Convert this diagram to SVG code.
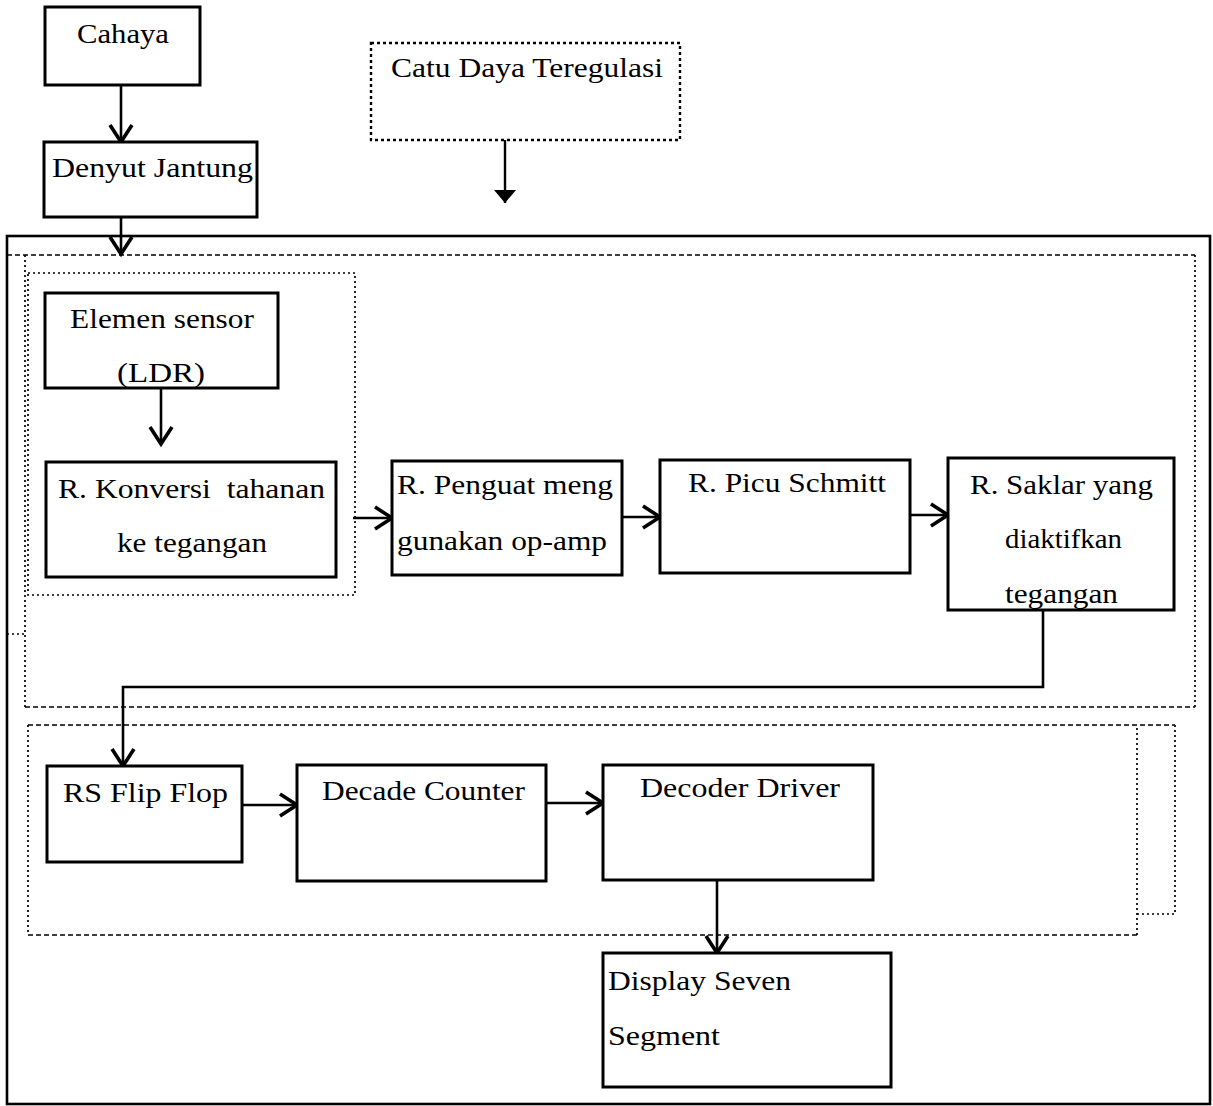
<svg xmlns="http://www.w3.org/2000/svg" width="1213" height="1106" viewBox="0 0 1213 1106">
  <defs>
    <style>
      .box { fill: #fff; stroke: #000; stroke-width: 3; }
      .dash { fill: none; stroke: #000; stroke-width: 1.7; stroke-dasharray: 5 3; }
      .dot { fill: none; stroke: #000; stroke-width: 1.7; stroke-dasharray: 2 3; }
      .dotbox { fill: none; stroke: #000; stroke-width: 2.4; stroke-dasharray: 3 3; }
      .wire { fill: none; stroke: #000; stroke-width: 2.4; }
      .arrow { fill: none; stroke: #000; stroke-width: 2.6; marker-end: url(#vee); }
      .label { font-family: "Liberation Serif", "Times New Roman", serif; font-size: 28px; fill: #000; white-space: pre; }
    </style>
    <marker id="vee" markerUnits="userSpaceOnUse" viewBox="-20 -14 24 28" refX="0" refY="0" markerWidth="24" markerHeight="28" orient="auto">
      <path d="M-17,-11 L0,0 L-17,11" fill="none" stroke="#000" stroke-width="3.6"/>
    </marker>
    <marker id="tri" markerUnits="userSpaceOnUse" viewBox="-14 -12 16 24" refX="0" refY="0" markerWidth="16" markerHeight="24" orient="auto">
      <path d="M-13,-11 L0,0 L-13,11 Z" fill="#000"/>
    </marker>
  </defs>

  <!-- enclosing system frame and sub-system groupings -->
  <g id="frames">
    <rect x="7" y="236" width="1203" height="868" fill="none" stroke="#000" stroke-width="2.6"/>
    <!-- upper group: sensing and signal conditioning -->
    <path class="dash" d="M7,255 H1195"/>
    <path class="dot" d="M1195,255 V707"/>
    <path class="dash" d="M25,707 H1195"/>
    <path class="dot" d="M25,255 V707"/>
    <path class="dot" d="M7,634 H25"/>
    <!-- sensor sub-group -->
    <rect class="dot" x="28" y="273" width="327" height="322"/>
    <!-- lower group: counting and display driving -->
    <path class="dash" d="M28,725 H1175"/>
    <path class="dot" d="M1175,725 V914 H1137"/>
    <path class="dot" d="M1137,728 V935"/>
    <path class="dash" d="M28,935 H1137"/>
    <path class="dot" d="M28,725 V935"/>
  </g>

  <g id="connectors">
    <path class="arrow" d="M121,85 V142"/>
    <path class="arrow" d="M121,217 V254"/>
    <path class="wire" d="M505,140 V203" marker-end="url(#tri)"/>
    <path class="arrow" d="M161,388 V444"/>
    <path class="arrow" d="M353,518 H392"/>
    <path class="arrow" d="M622,517 H660"/>
    <path class="arrow" d="M910,515 H948"/>
    <path class="arrow" d="M1043,611 V687 H123 V766"/>
    <path class="arrow" d="M242,805 H297"/>
    <path class="arrow" d="M546,803 H603"/>
    <path class="arrow" d="M717,880 V953"/>
  </g>

  <g id="cahaya">
    <rect class="box" x="45" y="7" width="155" height="78"/>
    <text class="label" x="77" y="43" textLength="92" lengthAdjust="spacingAndGlyphs">Cahaya</text>
  </g>

  <g id="denyut-jantung">
    <rect class="box" x="44" y="142" width="213" height="75"/>
    <text class="label" x="52" y="177" textLength="201" lengthAdjust="spacingAndGlyphs">Denyut Jantung</text>
  </g>

  <g id="catu-daya">
    <rect class="dotbox" x="371" y="43" width="309" height="97"/>
    <text class="label" x="391" y="77" textLength="272" lengthAdjust="spacingAndGlyphs">Catu Daya Teregulasi</text>
  </g>

  <g id="elemen-sensor">
    <rect class="box" x="45" y="293" width="233" height="95"/>
    <text class="label" x="70" y="328" textLength="184" lengthAdjust="spacingAndGlyphs">Elemen sensor</text>
    <text class="label" x="117" y="382" textLength="88" lengthAdjust="spacingAndGlyphs">(LDR)</text>
  </g>

  <g id="konversi">
    <rect class="box" x="46" y="462" width="290" height="115"/>
    <text class="label" x="58" y="498" textLength="267" lengthAdjust="spacingAndGlyphs">R. Konversi  tahanan</text>
    <text class="label" x="117" y="552" textLength="150" lengthAdjust="spacingAndGlyphs">ke tegangan</text>
  </g>

  <g id="penguat">
    <rect class="box" x="392" y="461" width="230" height="114"/>
    <text class="label" x="397" y="494" textLength="216" lengthAdjust="spacingAndGlyphs">R. Penguat meng</text>
    <text class="label" x="397" y="550" textLength="210" lengthAdjust="spacingAndGlyphs">gunakan op-amp</text>
  </g>

  <g id="picu-schmitt">
    <rect class="box" x="660" y="460" width="250" height="113"/>
    <text class="label" x="688" y="492" textLength="198" lengthAdjust="spacingAndGlyphs">R. Picu Schmitt</text>
  </g>

  <g id="saklar">
    <rect class="box" x="948" y="458" width="226" height="152"/>
    <text class="label" x="970" y="494" textLength="183" lengthAdjust="spacingAndGlyphs">R. Saklar yang</text>
    <text class="label" x="1005" y="548" textLength="117" lengthAdjust="spacingAndGlyphs">diaktifkan</text>
    <text class="label" x="1005" y="603" textLength="113" lengthAdjust="spacingAndGlyphs">tegangan</text>
  </g>

  <g id="rs-flip-flop">
    <rect class="box" x="47" y="766" width="195" height="96"/>
    <text class="label" x="63" y="802" textLength="165" lengthAdjust="spacingAndGlyphs">RS Flip Flop</text>
  </g>

  <g id="decade-counter">
    <rect class="box" x="297" y="765" width="249" height="116"/>
    <text class="label" x="322" y="800" textLength="203" lengthAdjust="spacingAndGlyphs">Decade Counter</text>
  </g>

  <g id="decoder-driver">
    <rect class="box" x="603" y="765" width="270" height="115"/>
    <text class="label" x="640" y="797" textLength="200" lengthAdjust="spacingAndGlyphs">Decoder Driver</text>
  </g>

  <g id="display">
    <rect class="box" x="603" y="953" width="288" height="134"/>
    <text class="label" x="608" y="990" textLength="183" lengthAdjust="spacingAndGlyphs">Display Seven</text>
    <text class="label" x="608" y="1045" textLength="112" lengthAdjust="spacingAndGlyphs">Segment</text>
  </g>
</svg>
